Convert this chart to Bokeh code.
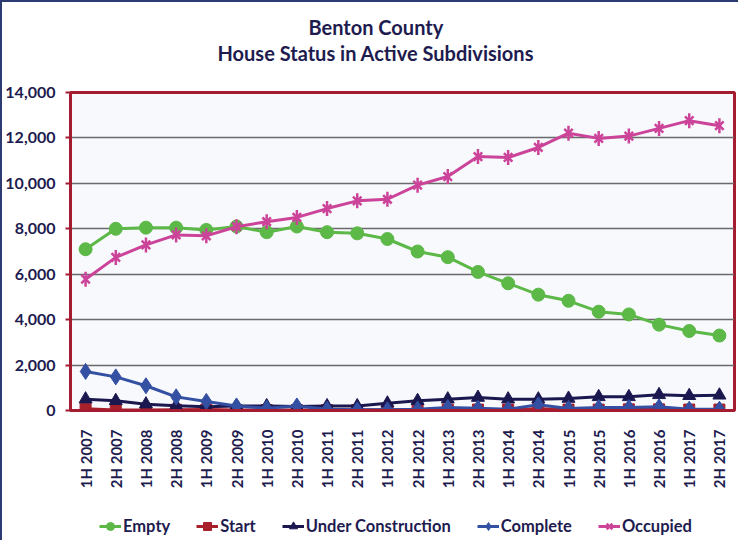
import math
from bokeh.plotting import figure
from bokeh.layouts import column
from bokeh.models import (FactorRange, ColumnDataSource, Legend, LegendItem, Title,
                          NumeralTickFormatter, FixedTicker, Range1d)
from bokeh.embed import file_html
from bokeh.resources import INLINE

categories = ["1H 2007", "2H 2007", "1H 2008", "2H 2008", "1H 2009", "2H 2009",
              "1H 2010", "2H 2010", "1H 2011", "2H 2011", "1H 2012", "2H 2012",
              "1H 2013", "2H 2013", "1H 2014", "2H 2014", "1H 2015", "2H 2015",
              "1H 2016", "2H 2016", "1H 2017", "2H 2017"]
empty = [7100, 8000, 8050, 8050, 7950, 8100, 7850, 8100, 7850, 7800, 7550, 7000,
         6750, 6100, 5600, 5100, 4830, 4350, 4230, 3780, 3500, 3300]
start = [80, 20, 20, 30, 40, 20, 20, 20, 20, 20, 30, 30,
         40, 40, 40, 80, 40, 40, 50, 50, 40, 40]
under_construction = [500, 430, 280, 210, 170, 200, 200, 180, 200, 200, 320, 430,
                      500, 570, 500, 500, 530, 600, 600, 690, 650, 670]
complete = [1720, 1480, 1090, 600, 400, 200, 100, 200, 60, 30, 30, 60,
            130, 100, 60, 250, 90, 130, 130, 160, 60, 60]
occupied = [5780, 6740, 7290, 7730, 7690, 8090, 8310, 8500, 8890, 9230, 9300, 9920,
            10300, 11180, 11140, 11580, 12210, 11980, 12080, 12420, 12760, 12540]
y_ticks = [0, 2000, 4000, 6000, 8000, 10000, 12000, 14000]
title_lines = ["Benton County", "House Status in Active Subdivisions"]
series_names = ["Empty", "Start", "Under Construction", "Complete", "Occupied"]

FONT = "Lato"
NAVY = "#1E1B4F"
FRAME_RED = "#A51C30"
C_EMPTY, C_START, C_UC, C_COMP, C_OCC = "#5CB847", "#A8202A", "#1B1850", "#3450A3", "#CC4499"

src = ColumnDataSource(dict(x=categories, empty=empty, start=start, uc=under_construction,
                            complete=complete, occupied=occupied))


def add_series(fig, sizes):
    LW = 3
    r_e = [fig.line("x", "empty", source=src, line_color=C_EMPTY, line_width=LW),
           fig.scatter("x", "empty", source=src, marker="circle", size=sizes[0],
                       fill_color=C_EMPTY, line_color=C_EMPTY)]
    r_s = [fig.line("x", "start", source=src, line_color=C_START, line_width=LW),
           fig.scatter("x", "start", source=src, marker="square", size=sizes[1],
                       fill_color=C_START, line_color=C_START)]
    r_u = [fig.line("x", "uc", source=src, line_color=C_UC, line_width=LW),
           fig.scatter("x", "uc", source=src, marker="triangle", size=sizes[2],
                       fill_color=C_UC, line_color=C_UC)]
    r_c = [fig.line("x", "complete", source=src, line_color=C_COMP, line_width=LW),
           fig.scatter("x", "complete", source=src, marker="diamond", size=sizes[3],
                       fill_color=C_COMP, line_color=C_COMP)]
    r_o = [fig.line("x", "occupied", source=src, line_color=C_OCC, line_width=LW),
           fig.scatter("x", "occupied", source=src, marker="x", size=sizes[4] - 3,
                       line_color=C_OCC, line_width=2.5),
           fig.scatter("x", "occupied", source=src, marker="dash", size=sizes[4],
                       angle=math.pi / 2, line_color=C_OCC, line_width=2.5)]
    return [r_e, r_s, r_u, r_c, r_o]


W = 736
p = figure(width=W, height=503, x_range=FactorRange(*categories, range_padding=0),
           y_range=Range1d(0, 14000), output_backend="svg", toolbar_location=None,
           min_border_left=68, min_border_right=4, min_border_top=90, min_border_bottom=95)

p.background_fill_color = "#F7F9FD"
p.border_fill_color = "white"
p.outline_line_color = FRAME_RED
p.outline_line_width = 3

p.xgrid.grid_line_color = None
p.ygrid.grid_line_color = "#6A6A6A"
p.ygrid.grid_line_width = 1.5
p.ygrid.ticker = FixedTicker(ticks=y_ticks)

p.yaxis.ticker = FixedTicker(ticks=y_ticks)
p.yaxis.formatter = NumeralTickFormatter(format="0,0")
p.yaxis.axis_line_color = FRAME_RED
p.yaxis.axis_line_width = 3
p.yaxis.major_tick_line_color = FRAME_RED
p.yaxis.major_tick_line_width = 2
p.yaxis.major_tick_out = 5
p.yaxis.major_tick_in = 0
p.yaxis.minor_tick_line_color = None
p.yaxis.major_label_text_font = FONT
p.yaxis.major_label_text_font_style = "bold"
p.yaxis.major_label_text_font_size = "16px"
p.yaxis.major_label_text_color = NAVY
p.yaxis.major_label_standoff = 10

p.xaxis.axis_line_color = FRAME_RED
p.xaxis.axis_line_width = 3
p.xaxis.major_tick_line_color = None
p.xaxis.minor_tick_line_color = None
p.xaxis.major_label_orientation = math.pi / 2
p.xaxis.major_label_text_font = FONT
p.xaxis.major_label_text_font_style = "bold"
p.xaxis.major_label_text_font_size = "15px"
p.xaxis.major_label_text_color = NAVY
p.xaxis.major_label_standoff = 13

add_series(p, [13, 11, 13, 16, 15])

# titles: spacer (closest to frame), then the two lines
spacer = Title(text=" ", text_font=FONT, text_font_size="20px", standoff=2)
t_low = Title(text=title_lines[1], align="left", offset=147, text_font=FONT,
              text_font_style="bold", text_font_size="20px", text_color=NAVY, standoff=0)
t_high = Title(text=title_lines[0], align="left", offset=238, text_font=FONT,
               text_font_style="bold", text_font_size="20px", text_color=NAVY, standoff=0)
p.add_layout(spacer, "above")
p.add_layout(t_low, "above")
p.add_layout(t_high, "above")

# legend strip below the chart (its series fall outside this strip's y range)
leg = figure(width=W, height=35, x_range=FactorRange(*categories), y_range=Range1d(-2, -1),
             x_axis_type=None, y_axis_type=None, output_backend="svg", toolbar_location=None,
             min_border=0)
leg.outline_line_color = None
leg.xgrid.grid_line_color = None
leg.ygrid.grid_line_color = None
leg.background_fill_color = "white"
leg.border_fill_color = "white"
leg_renderers = add_series(leg, [12, 11, 12, 15, 14])

legend = Legend(items=[LegendItem(label=n, renderers=r)
                       for n, r in zip(series_names, leg_renderers)],
                orientation="horizontal", location=(29, 4))
legend.label_text_font = FONT
legend.label_text_font_style = "bold"
legend.label_text_font_size = "16.5px"
legend.label_text_color = NAVY
legend.border_line_color = None
legend.background_fill_alpha = 0
legend.glyph_width = 22
legend.label_standoff = 2
legend.spacing = 26
legend.padding = 2
legend.margin = 0
leg.add_layout(legend, "center")

layout = column(p, leg, spacing=0)
layout.styles = {"border-left": "2px solid #2E3A72", "border-top": "2px solid #2E3A72"}

open("out.html", "w").write(file_html(layout, INLINE))
